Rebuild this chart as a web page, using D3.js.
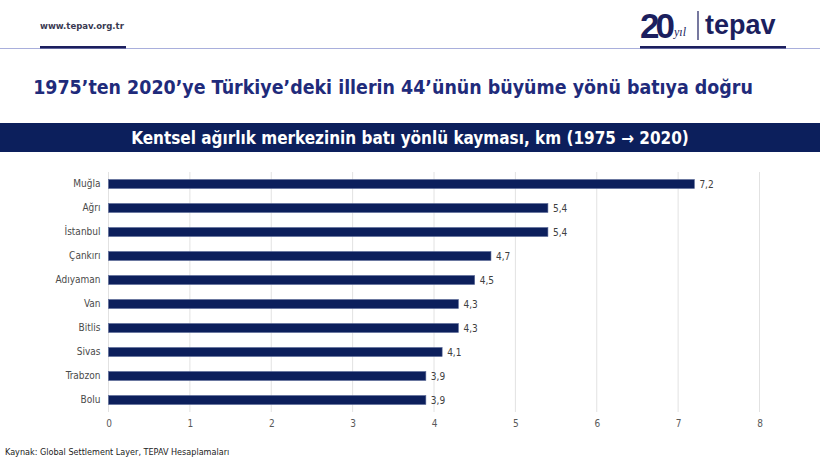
<!DOCTYPE html>
<html>
<head>
<meta charset="utf-8">
<script src="https://cdn.jsdelivr.net/npm/d3@7"></script>
<style>
  body { margin: 0; background: #fff; }
  svg { display: block; }
</style>
</head>
<body>
<div id="chart"></div>
<script>
// data
var provinces = ["Muğla", "Ağrı", "İstanbul", "Çankırı", "Adıyaman", "Van", "Bitlis", "Sivas", "Trabzon", "Bolu"];
var shiftKm = [7.2, 5.4, 5.4, 4.7, 4.5, 4.3, 4.3, 4.1, 3.9, 3.9];
var xTicks = [0, 1, 2, 3, 4, 5, 6, 7, 8];

var titleText = "1975’ten 2020’ye Türkiye’deki illerin 44’ünün büyüme yönü batıya doğru";
var bannerText = "Kentsel ağırlık merkezinin batı yönlü kayması, km (1975 → 2020)";
var sourceText = "Kaynak: Global Settlement Layer, TEPAV Hesaplamaları";

var W = 820, H = 462;
var navy = "#0c1f5c";
var font = "'DejaVu Sans Condensed', 'DejaVu Sans', sans-serif";

var svg = d3.select("#chart").append("svg")
  .attr("width", W).attr("height", H)
  .attr("font-family", font);

// header
svg.append("text")
  .attr("x", 40).attr("y", 29)
  .attr("font-size", 9.5).attr("font-weight", "bold")
  .attr("fill", "#3a3a52")
  .text("www.tepav.org.tr");

svg.append("line")
  .attr("x1", 0).attr("x2", W).attr("y1", 48.5).attr("y2", 48.5)
  .attr("stroke", "#a9afdc").attr("stroke-width", 1);
svg.append("rect").attr("x", 40).attr("y", 46).attr("width", 86).attr("height", 2.5).attr("fill", "#1c1f5e");
svg.append("rect").attr("x", 640).attr("y", 46).attr("width", 146).attr("height", 2.5).attr("fill", "#1c1f5e");

// logo
var logo = svg.append("g").attr("fill", "#1c1f5e");
logo.append("text")
  .attr("x", 640).attr("y", 38)
  .attr("font-family", "'Liberation Sans', Arial, sans-serif")
  .attr("font-size", 35).attr("font-weight", "bold")
  .attr("letter-spacing", -4)
  .text("20");
logo.append("text")
  .attr("x", 674).attr("y", 36)
  .attr("font-family", "'Liberation Serif', serif")
  .attr("font-size", 12).attr("font-style", "italic")
  .text("yıl");
logo.append("line")
  .attr("x1", 698).attr("x2", 698).attr("y1", 11).attr("y2", 40)
  .attr("stroke", "#1c1f5e").attr("stroke-width", 1.2);
logo.append("text")
  .attr("x", 705).attr("y", 34)
  .attr("font-family", "'Liberation Sans', Arial, sans-serif")
  .attr("font-size", 27).attr("font-weight", "bold")
  .text("tepav");

// title
var title = svg.append("text")
  .attr("x", 393).attr("y", 94)
  .attr("text-anchor", "middle")
  .attr("font-size", 20).attr("font-weight", "bold")
  .attr("fill", "#1f2b7b")
  .text(titleText);
fitWidth(title, 720);

// banner
svg.append("rect")
  .attr("x", 0).attr("y", 123).attr("width", W).attr("height", 29)
  .attr("fill", navy);
var banner = svg.append("text")
  .attr("x", W / 2).attr("y", 143.5)
  .attr("text-anchor", "middle")
  .attr("font-size", 16).attr("font-weight", "bold")
  .attr("fill", "#fff")
  .text(bannerText);
fitWidth(banner, 558);

// chart
var x = d3.scaleLinear().domain([0, 8]).range([108.5, 759.5]);
var y = d3.scaleBand().domain(provinces).range([172, 412])
  .paddingInner(0.625).paddingOuter(0.3125);

var data = provinces.map(function (p, i) { return { name: p, value: shiftKm[i] }; });

var chart = svg.append("g");

chart.selectAll(".grid").data(xTicks).enter().append("line")
  .attr("class", "grid")
  .attr("x1", function (d) { return x(d); })
  .attr("x2", function (d) { return x(d); })
  .attr("y1", 172).attr("y2", 412)
  .attr("stroke", "#e2e2e2").attr("stroke-width", 1);

chart.selectAll(".bar").data(data).enter().append("rect")
  .attr("class", "bar")
  .attr("x", x(0))
  .attr("y", function (d) { return y(d.name); })
  .attr("width", function (d) { return x(d.value) - x(0); })
  .attr("height", y.bandwidth())
  .attr("fill", navy)
  .attr("stroke", "#5a6a98").attr("stroke-width", 0.6);

chart.selectAll(".val").data(data).enter().append("text")
  .attr("class", "val")
  .attr("x", function (d) { return x(d.value) + 5; })
  .attr("y", function (d) { return y(d.name) + y.bandwidth() / 2; })
  .attr("dy", "0.35em")
  .attr("font-size", 10).attr("fill", "#404040")
  .text(function (d) { return d3.format(".1f")(d.value).replace(".", ","); });

var yAxis = chart.append("g")
  .attr("transform", "translate(" + x(0) + ",0)")
  .call(d3.axisLeft(y).tickSize(0).tickPadding(8));
yAxis.select(".domain").remove();
yAxis.selectAll("text")
  .attr("font-family", font).attr("font-size", 10).attr("fill", "#4a4a4a");

var xAxis = chart.append("g")
  .attr("transform", "translate(0,412)")
  .call(d3.axisBottom(x).tickValues(xTicks).tickSize(0).tickPadding(8).tickFormat(d3.format("d")));
xAxis.select(".domain").remove();
xAxis.selectAll("text")
  .attr("font-family", font).attr("font-size", 10).attr("fill", "#595959");

// source
svg.append("text")
  .attr("x", 5).attr("y", 455)
  .attr("font-size", 9).attr("fill", "#222")
  .text(sourceText);

function fitWidth(sel, target) {
  var w = sel.node().getComputedTextLength();
  var fs = +sel.attr("font-size");
  sel.attr("font-size", (fs * target / w).toFixed(2));
}
</script>
</body>
</html>
